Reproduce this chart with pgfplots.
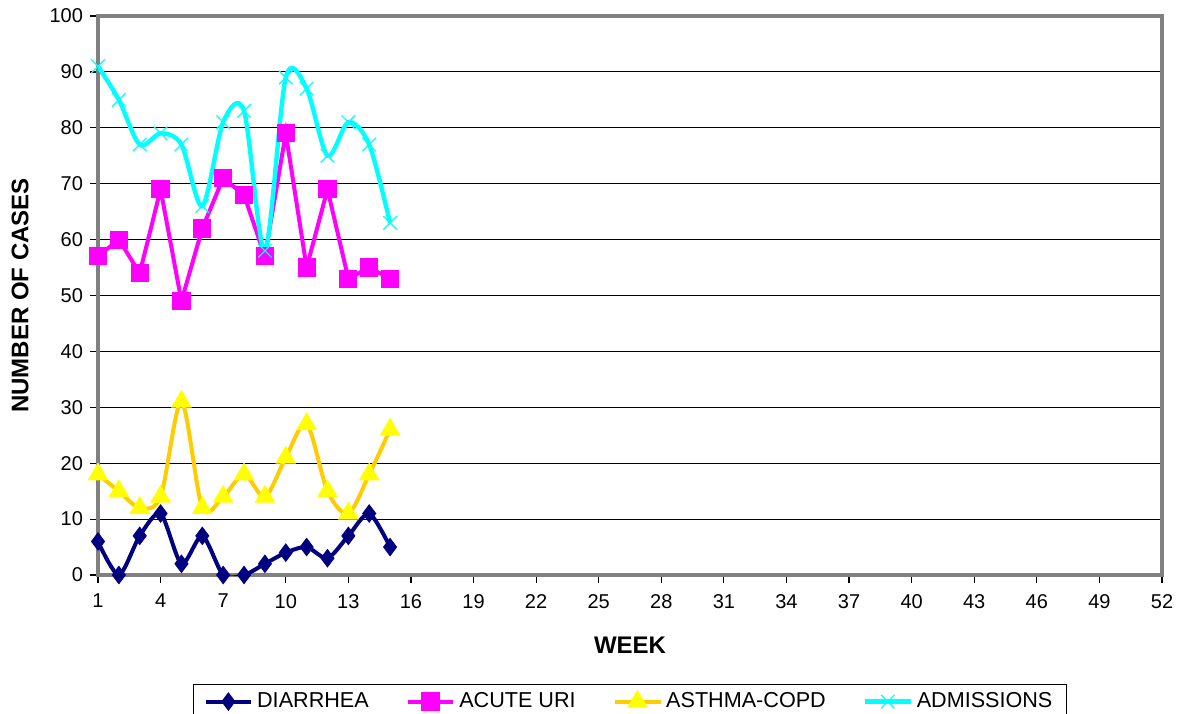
\documentclass[border=0pt]{standalone}
\usepackage{fontspec}
\setmainfont{Liberation Sans}
\usepackage{pgfplots}
\pgfplotsset{compat=1.18}
\definecolor{navyc}{RGB}{0,0,128}
\definecolor{magc}{RGB}{255,0,255}
\definecolor{goldc}{RGB}{255,204,0}
\definecolor{yelc}{RGB}{255,255,0}
\definecolor{cyanc}{RGB}{0,255,255}
\definecolor{framec}{RGB}{128,128,128}
\begin{document}
\begin{tikzpicture}
\begin{axis}[
  at={(0,0)}, anchor=south west,
  scale only axis, width=532pt, height=279.5pt,
  xmin=1, xmax=52, ymin=0, ymax=100,
  xtick={1,4,...,52}, ytick={0,10,...,100},
  tick align=outside, major tick length=4pt,
  tick style={black, line width=0.6pt},
  xtick pos=bottom, ytick pos=left,
  ymajorgrids, grid style={black, line width=0.5pt},
  axis line style={framec, line width=2pt},
  /pgf/number format/assume math mode=true,
  tick label style={font=\fontsize{10}{12}\selectfont},
  xticklabel style={yshift=-2pt},
  xlabel={WEEK}, ylabel={NUMBER OF CASES},
  xlabel style={at={(axis description cs:0.5,-0.125)}, anchor=center, font=\fontsize{12}{14}\selectfont\bfseries},
  ylabel style={at={(axis description cs:-0.0733,0.5)}, anchor=center, font=\fontsize{12}{14}\selectfont\bfseries},
  legend columns=4,
  legend style={at={(axis description cs:0.5,-0.195)}, anchor=north, draw=black, line width=0.5pt,
    font=\fontsize{10.8}{12}\selectfont, inner ysep=2pt, inner xsep=5pt,
    /tikz/every even column/.append style={column sep=16.5pt}},
  legend image code/.code={\draw[mark repeat=2,mark phase=2] plot coordinates {(0cm,0cm) (0.4cm,0cm) (0.8cm,0cm)};},
]
\addplot[navyc, line width=2pt, smooth, tension=0.45, mark=diamond*, mark size=4.3pt, mark options={solid, fill=navyc, draw=navyc, line width=0.5pt}]
coordinates {(1,6)(2,0)(3,7)(4,11)(5,2)(6,7)(7,0)(8,0)(9,2)(10,4)(11,5)(12,3)(13,7)(14,11)(15,5)};
\addlegendentry{DIARRHEA}
\addplot[magc, line width=2pt, mark=square*, mark size=4.3pt, mark options={solid, fill=magc, draw=magc, line width=0.5pt}]
coordinates {(1,57)(2,60)(3,54)(4,69)(5,49)(6,62)(7,71)(8,68)(9,57)(10,79)(11,55)(12,69)(13,53)(14,55)(15,53)};
\addlegendentry{ACUTE URI}
\addplot[goldc, line width=2pt, smooth, mark=triangle*, mark size=5.5pt, mark options={solid, fill=yelc, draw=yelc, line width=0.5pt}]
coordinates {(1,18)(2,15)(3,12)(4,14)(5,31)(6,12)(7,14)(8,18)(9,14)(10,21)(11,27)(12,15)(13,11)(14,18)(15,26)};
\addlegendentry{ASTHMA-COPD}
\addplot[cyanc, line width=2.2pt, smooth, mark=x, mark size=4.8pt, mark options={solid, draw=cyanc, line width=0.6pt}]
coordinates {(1,91)(2,85)(3,77)(4,79)(5,77)(6,66)(7,81)(8,83)(9,58)(10,89)(11,87)(12,75)(13,81)(14,77)(15,63)};
\addlegendentry{ADMISSIONS}
\end{axis}
\pgfresetboundingbox
\path (-49pt,-69pt) rectangle (542pt,287.5pt);
\end{tikzpicture}
\end{document}
